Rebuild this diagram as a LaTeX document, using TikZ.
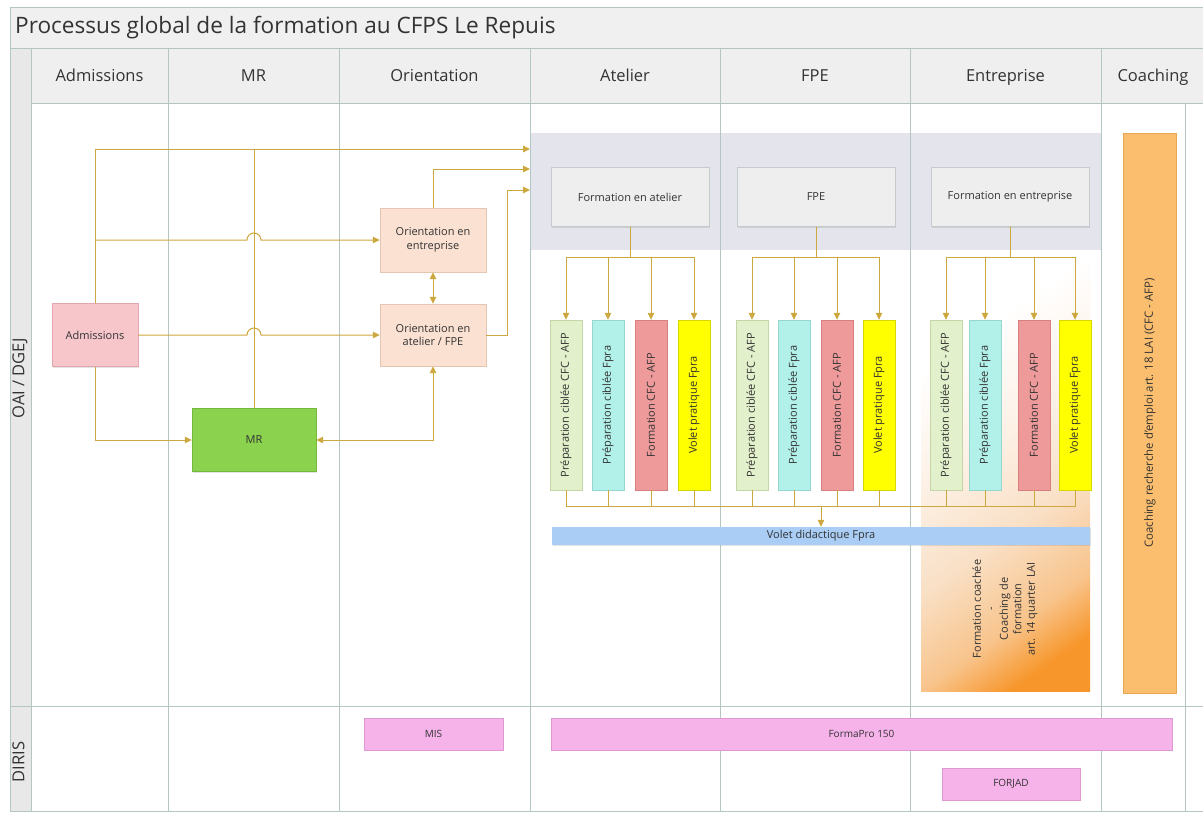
\documentclass[tikz,border=0pt]{standalone}
\usepackage{fontspec}
\setmainfont{Open Sans}
\usetikzlibrary{arrows.meta,shadows,calc}
\definecolor{gridc}{HTML}{B4C6C2}
\definecolor{txt}{HTML}{333333}
\definecolor{arrc}{HTML}{CDA83E}
\definecolor{titlef}{HTML}{F0F0F0}
\definecolor{headf}{HTML}{EFEFEF}
\definecolor{stripf}{HTML}{E8E8E8}
\definecolor{bandf}{HTML}{E4E4EC}
\definecolor{admf}{HTML}{F7C6CB}
\definecolor{admd}{HTML}{E3A7AE}
\definecolor{mrf}{HTML}{8BD24E}
\definecolor{mrd}{HTML}{74B83E}
\definecolor{orf}{HTML}{FBE1D2}
\definecolor{ord}{HTML}{E6C5B3}
\definecolor{formf}{HTML}{EEEEEE}
\definecolor{formd}{HTML}{C5CACA}
\definecolor{tgreen}{HTML}{E2F0CB}
\definecolor{tgreend}{HTML}{C4D6A8}
\definecolor{tcyan}{HTML}{B2F0EA}
\definecolor{tcyand}{HTML}{95D6CF}
\definecolor{tred}{HTML}{EF9A9A}
\definecolor{tredd}{HTML}{D88080}
\definecolor{tyel}{HTML}{FFFF00}
\definecolor{tyeld}{HTML}{D6D600}
\definecolor{voletf}{HTML}{A9CDF5}
\definecolor{coachf}{HTML}{FBBE6E}
\definecolor{coachd}{HTML}{E8A850}
\definecolor{orgrad}{HTML}{F7962A}
\definecolor{ormid}{HTML}{F8C48C}
\definecolor{orpale}{HTML}{F9E0C6}
\definecolor{orvpale}{HTML}{FDF2E8}
\definecolor{pinkf}{HTML}{F5B3EA}
\definecolor{pinkd}{HTML}{DD98D0}
\pgfdeclareverticalshading{orfade}{100bp}{color(0bp)=(orgrad); color(22bp)=(orgrad); color(30bp)=(ormid); color(42bp)=(orpale); color(56bp)=(orvpale); color(70bp)=(white); color(100bp)=(white)}
\tikzset{
  gridline/.style={draw=gridc, line width=0.9pt},
  basebox/.style={rectangle, inner sep=2pt, align=center, text=txt,
    font=\fontsize{11}{13.5}\selectfont,
    drop shadow={shadow xshift=1.2pt, shadow yshift=-1.2pt, opacity=0.22}},
  tallbox/.style={basebox, minimum width=32pt, minimum height=170pt},
  vtext/.style={rotate=90, inner sep=0pt, text=txt, font=\fontsize{11}{13.5}\selectfont, align=center},
  headlbl/.style={text=txt, font=\fontsize{16.5}{19}\selectfont, inner sep=0pt, text height=12pt, text depth=3.5pt},
  conn/.style={draw=arrc, line width=1pt},
  arr/.style={-{Triangle[length=7pt,width=6.5pt]}},
  biarr/.style={{Triangle[length=7pt,width=6.5pt]}-{Triangle[length=7pt,width=6.5pt]}},
  pinkbox/.style={basebox, fill=pinkf, draw=pinkd, minimum height=32pt, font=\fontsize{10}{12}\selectfont}
}
\begin{document}
\begin{tikzpicture}[x=1pt,y=-1pt]
\useasboundingbox (0,0) rectangle (1203,812);
\fill[white] (0,0) rectangle (1203,812);
% backgrounds
\fill[titlef] (10,7) rectangle (1203,48);
\fill[headf] (31,48) rectangle (1203,103);
\fill[stripf] (10,48) rectangle (31,811);
% band
\fill[bandf] (530,133) rectangle (1101,250);
% orange gradient region
\shade[shading=orfade, shading angle=35] (921,252) rectangle (1090,691);
% grid lines
\draw[gridline] (10,811) -- (10,7) -- (1203,7);
\draw[gridline] (10,48) -- (1203,48);
\draw[gridline] (31,103) -- (1203,103);
\draw[gridline] (31,48) -- (31,811);
\foreach \xx in {168,339,530,720,910,1101} \draw[gridline] (\xx,48) -- (\xx,811);
\draw[gridline] (1185,103) -- (1185,811);
\draw[gridline] (10,706) -- (1203,706);
\draw[gridline] (10,811) -- (1203,811);
% title and headers
\node[anchor=west, text=txt, font=\fontsize{22.6}{26}\selectfont, inner sep=0pt] (title) at (15,28) {Processus global de la formation au CFPS Le Repuis};
\node[headlbl] (h1) at (99.5,77) {Admissions};
\node[headlbl] (h2) at (253.5,77) {MR};
\node[headlbl] (h3) at (434.5,77) {Orientation};
\node[headlbl] (h4) at (625,77) {Atelier};
\node[headlbl] (h5) at (815,77) {FPE};
\node[headlbl] (h6) at (1005.5,77) {Entreprise};
\node[headlbl] (h7) at (1153,77) {Coaching};
\node[headlbl, rotate=90] (l1) at (20,378) {OAI / DGEJ};
\node[headlbl, rotate=90] (l2) at (20,762) {DIRIS};
% left boxes
\node[basebox, fill=admf, draw=admd, minimum width=86pt, minimum height=63pt] (adm) at (95,335) {Admissions};
\node[basebox, fill=mrf, draw=mrd, minimum width=124pt, minimum height=63pt] (mr) at (254,440) {MR};
\node[basebox, fill=orf, draw=ord, minimum width=106pt, minimum height=64pt] (orent) at (433,240) {Orientation en\\entreprise};
\node[basebox, fill=orf, draw=ord, minimum width=106pt, minimum height=62pt] (oratel) at (433,335) {Orientation en\\atelier / FPE};
% formation boxes
\node[basebox, fill=formf, draw=formd, minimum width=158pt, minimum height=59pt] (fat) at (630,197) {Formation en atelier};
\node[basebox, fill=formf, draw=formd, minimum width=158pt, minimum height=59pt] (ffpe) at (816,197) {FPE};
\node[basebox, fill=formf, draw=formd, minimum width=158pt, minimum height=59pt] (fent) at (1010,197) {Formation en entreprise};
% tall boxes
\node[tallbox, fill=tgreen, draw=tgreend] (a1) at (566,405) {};
\node[tallbox, fill=tcyan, draw=tcyand] (a2) at (608,405) {};
\node[tallbox, fill=tred, draw=tredd] (a3) at (651,405) {};
\node[tallbox, fill=tyel, draw=tyeld] (a4) at (694,405) {};
\node[tallbox, fill=tgreen, draw=tgreend] (b1) at (752,405) {};
\node[tallbox, fill=tcyan, draw=tcyand] (b2) at (794,405) {};
\node[tallbox, fill=tred, draw=tredd] (b3) at (837,405) {};
\node[tallbox, fill=tyel, draw=tyeld] (b4) at (879,405) {};
\node[tallbox, fill=tgreen, draw=tgreend] (c1) at (946,405) {};
\node[tallbox, fill=tcyan, draw=tcyand] (c2) at (985,405) {};
\node[tallbox, fill=tred, draw=tredd] (c3) at (1034,405) {};
\node[tallbox, fill=tyel, draw=tyeld] (c4) at (1075,405) {};
\foreach \g in {a,b,c}{
  \node[vtext] (\g1t) at (\g1) {Préparation ciblée CFC - AFP};
  \node[vtext] (\g2t) at (\g2) {Préparation ciblée Fpra};
  \node[vtext] (\g3t) at (\g3) {Formation CFC - AFP};
  \node[vtext] (\g4t) at (\g4) {Volet pratique Fpra};
}
% volet didactique
\node[basebox, fill=voletf, draw=none, minimum width=538pt, minimum height=18pt, inner sep=0pt] (volet) at (821,536) {Volet didactique Fpra};
% coaching formation text
\node[vtext] (fcoach) at (1005,609) {Formation coachée\\-\\Coaching de\\formation\\art. 14 quarter LAI};
% coaching box
\node[basebox, fill=coachf, draw=coachd, minimum width=53pt, minimum height=560pt] (coach) at (1149.5,413) {};
\node[vtext, font=\fontsize{11.4}{13}\selectfont] (coacht) at (1150,413) {Coaching recherche d'emploi art. 18 LAI (CFC - AFP)};
% DIRIS boxes
\node[pinkbox, minimum width=139pt] (mis) at (433.5,734) {MIS};
\node[pinkbox, minimum width=621pt] (fpro) at (861.5,734) {FormaPro 150};
\node[pinkbox, minimum width=138pt] (forjad) at (1011,784) {FORJAD};
% connectors left
\coordinate (in1) at (530,149);
\coordinate (in2) at (530,169);
\coordinate (in3) at (530,190);
\draw[conn,arr] (adm.north) |- (in1);
\draw[conn] (mr.north) -- (mr.north |- in1);
\draw[conn,arr] (orent.north) |- (in2);
\draw[conn,arr] (oratel.east) -- ++(21,0) |- (in3);
\draw[conn,arr] (adm.north |- orent.west) -- ($(mr.north |- orent.west)+(-7,0)$) arc[start angle=180, end angle=0, radius=7pt] -- (orent.west);
\draw[conn,arr] (adm.east) -- ($(mr.north |- adm.east)+(-7,0)$) arc[start angle=180, end angle=0, radius=7pt] -- (oratel.west);
\draw[conn,arr] (adm.south) |- (mr.west);
\draw[conn,biarr] (mr.east) -| (oratel.south);
\draw[conn,biarr] (orent.south) -- (oratel.north);
% fans
\foreach \t in {a1,a2,a3,a4} \draw[conn,arr] (fat.south) -- ++(0,31) -| (\t.north);
\foreach \t in {b1,b2,b3,b4} \draw[conn,arr] (ffpe.south) -- ++(0,31) -| (\t.north);
\foreach \t in {c1,c2,c3,c4} \draw[conn,arr] (fent.south) -- ++(0,31) -| (\t.north);
% collector
\coordinate (coll) at (821,506);
\foreach \t in {a1,a2,a3,a4,b1,b2,b3,b4,c1,c2,c3,c4} \draw[conn] (\t.south) |- (coll);
\draw[conn,arr] (coll) -- (volet.north);
\end{tikzpicture}
\end{document}
